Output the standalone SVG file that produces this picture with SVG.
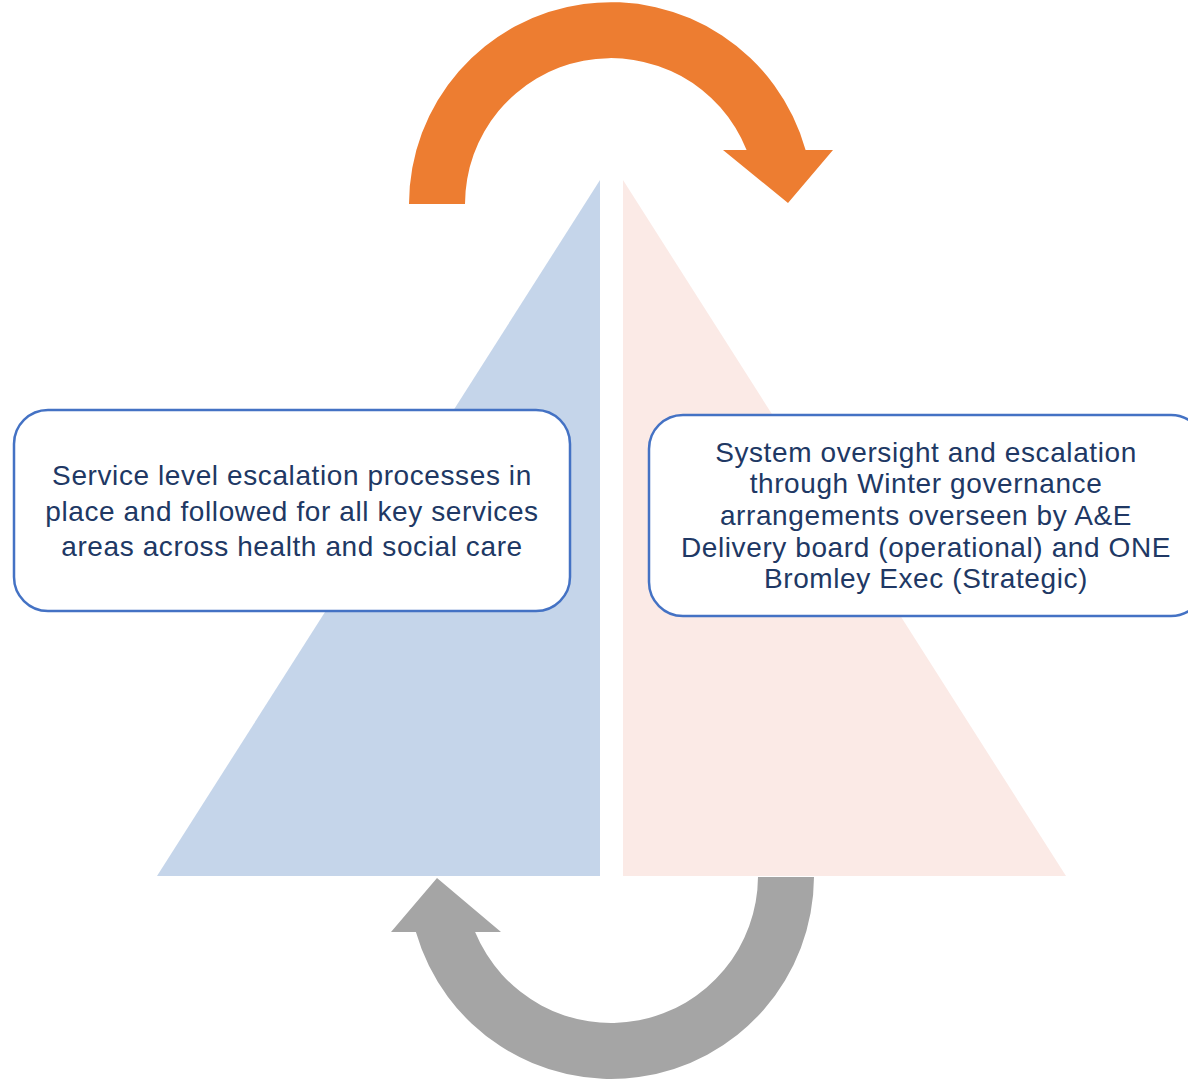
<svg xmlns="http://www.w3.org/2000/svg" width="1188" height="1081" viewBox="0 0 1188 1081">
<style>
.box{fill:#ffffff;stroke:#4472C4;stroke-width:2.5}
.t{font-family:"Liberation Sans",Arial,sans-serif;font-size:28px;letter-spacing:0.6px;fill:#203864;text-anchor:middle}
</style>
<rect width="1188" height="1081" fill="#ffffff"/>
<g id="tri-left"><polygon points="600,180 600,876 157,876" fill="#C5D5EA"/></g>
<g id="tri-right"><polygon points="623,180 623,876 1066,876" fill="#FBEAE6"/></g>
<g id="connectors">
<path d="M409 204 A202 202 0 0 1 805.6 150 L833 150 L788 203 L723 150 L746.6 150 A146 146 0 0 0 465 204 Z" fill="#ED7D31"/>
<path d="M814 877 A203 203 0 0 1 415.9 932 L391 932 L437 878 L501 932 L475.1 932 A147 147 0 0 0 758 877 Z" fill="#A5A5A5"/>
</g>
<g id="node-left">
<rect class="box" x="14" y="410" width="556" height="201" rx="34"/>
<text class="t" x="292" y="485">Service level escalation processes in</text>
<text class="t" x="292" y="521">place and followed for all key services</text>
<text class="t" x="292" y="556">areas across health and social care</text>
</g>
<g id="node-right">
<rect class="box" x="649" y="415" width="556" height="201" rx="34"/>
<text class="t" x="926" y="462">System oversight and escalation</text>
<text class="t" x="926" y="493">through Winter governance</text>
<text class="t" x="926" y="525">arrangements overseen by A&amp;E</text>
<text class="t" x="926" y="557">Delivery board (operational) and ONE</text>
<text class="t" x="926" y="588">Bromley Exec (Strategic)</text>
</g>
</svg>
